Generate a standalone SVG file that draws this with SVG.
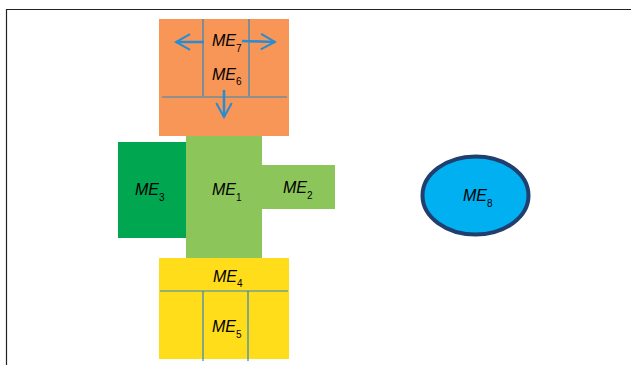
<svg xmlns="http://www.w3.org/2000/svg" width="631" height="365" viewBox="0 0 631 365">
<style>
.lbl{font-family:"Liberation Sans",Arial,sans-serif;font-style:italic;font-size:16px;fill:#000}
.sub{font-size:10px;font-style:normal}
.div{stroke:#2e86c1;stroke-width:1.2;fill:none}
.arr{stroke:#2a8bd0;stroke-width:2.5;fill:none;marker-end:url(#ah)}
</style>
<defs>
<marker id="ah" viewBox="0 0 12 12" refX="11" refY="6" markerWidth="7.5" markerHeight="7.5" markerUnits="strokeWidth" orient="auto">
<path d="M2,1 L11,6 L2,11" fill="none" stroke="#2a8bd0" stroke-width="1.3"/>
</marker>
</defs>
<rect width="631" height="365" fill="#fff"/>
<path d="M6.5,365 V9.5 H631" fill="none" stroke="#222" stroke-width="1.2"/>
<g id="ME6_7">
<rect x="159" y="19" width="130" height="117" fill="#f79656"/>
<line class="div" x1="203" y1="19" x2="203" y2="96"/>
<line class="div" x1="249" y1="19" x2="249" y2="96"/>
<line class="div" x1="162" y1="97" x2="287" y2="97"/>
<text class="lbl" x="212" y="46">ME<tspan class="sub" dy="6">7</tspan></text>
<text class="lbl" x="212" y="80">ME<tspan class="sub" dy="5">6</tspan></text>
</g>
<g id="ME3">
<rect x="118" y="142" width="68" height="96" fill="#00a650"/>
<text class="lbl" x="135" y="195">ME<tspan class="sub" dy="6">3</tspan></text>
</g>
<g id="ME1">
<rect x="186" y="136" width="76" height="122" fill="#8cc65a"/>
<text class="lbl" x="212" y="195">ME<tspan class="sub" dy="6">1</tspan></text>
</g>
<g id="ME2">
<rect x="262" y="165" width="73" height="44" fill="#8cc65a"/>
<text class="lbl" x="283" y="193">ME<tspan class="sub" dy="6">2</tspan></text>
</g>
<g id="ME4_5">
<rect x="159" y="258" width="130" height="101" fill="#ffdd1b"/>
<line class="div" x1="160" y1="291" x2="288" y2="291"/>
<line class="div" x1="203" y1="291" x2="203" y2="361"/>
<line class="div" x1="248" y1="291" x2="248" y2="361"/>
<text class="lbl" x="213" y="282">ME<tspan class="sub" dy="5">4</tspan></text>
<text class="lbl" x="212" y="332">ME<tspan class="sub" dy="6">5</tspan></text>
</g>
<g id="ME8">
<ellipse cx="475.5" cy="195.5" rx="53" ry="39" fill="#00b0f0" stroke="#203f6e" stroke-width="4"/>
<text class="lbl" x="463" y="201">ME<tspan class="sub" dy="6">8</tspan></text>
</g>
<g id="connectors">
<line class="arr" x1="204" y1="42" x2="176" y2="42"/>
<line class="arr" x1="242" y1="41" x2="275" y2="42"/>
<line class="arr" x1="224" y1="90" x2="224" y2="117"/>
</g>
</svg>
